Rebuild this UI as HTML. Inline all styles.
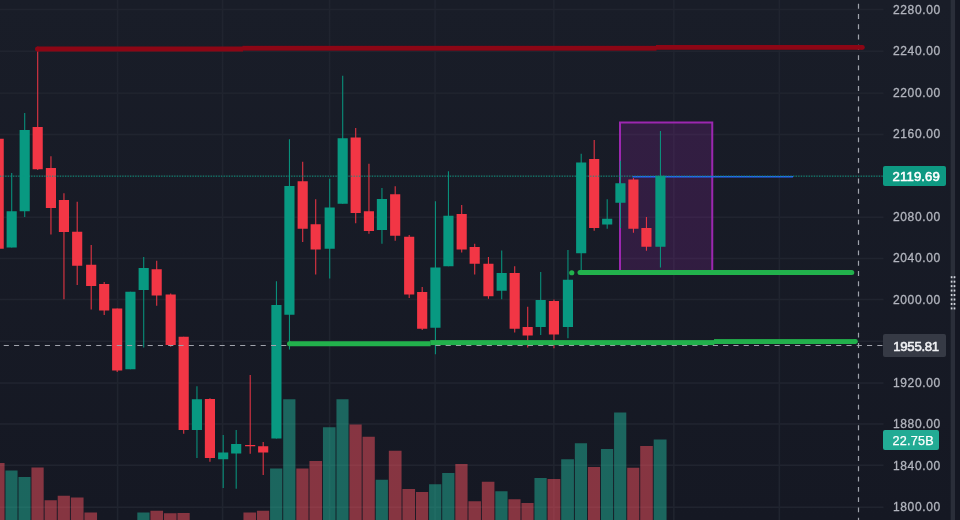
<!DOCTYPE html>
<html><head><meta charset="utf-8"><title>Chart</title>
<style>
html,body{margin:0;padding:0;}
body{width:960px;height:520px;overflow:hidden;position:relative;background:linear-gradient(#191d28,#151823);font-family:"Liberation Sans",sans-serif;}
.lbl{-webkit-text-stroke:0.3px #b2b5be;position:absolute;left:892.9px;width:50px;height:16px;line-height:16.6px;font-size:12px;letter-spacing:0.66px;color:#b2b5be;white-space:nowrap;}
.tag{position:absolute;left:883px;border-radius:2px;color:#fff;font-size:12.6px;letter-spacing:0.25px;white-space:nowrap;box-sizing:border-box;padding-left:9.5px;}
</style></head><body>
<svg width="960" height="520" viewBox="0 0 960 520" style="position:absolute;left:0;top:0">
<rect x="116.80" y="0" width="1.6" height="520" fill="#20242f"/>
<rect x="221.80" y="0" width="1.6" height="520" fill="#20242f"/>
<rect x="328.80" y="0" width="1.6" height="520" fill="#20242f"/>
<rect x="434.30" y="0" width="1.6" height="520" fill="#20242f"/>
<rect x="553.05" y="0" width="1.6" height="520" fill="#20242f"/>
<rect x="673.05" y="0" width="1.6" height="520" fill="#20242f"/>
<rect x="778.55" y="0" width="1.6" height="520" fill="#20242f"/>
<rect x="0" y="8.65" width="883.5" height="1.6" fill="#20242f"/>
<rect x="0" y="50.40" width="883.5" height="1.6" fill="#20242f"/>
<rect x="0" y="92.35" width="883.5" height="1.6" fill="#20242f"/>
<rect x="0" y="133.65" width="883.5" height="1.6" fill="#20242f"/>
<rect x="0" y="175.05" width="883.5" height="1.6" fill="#20242f"/>
<rect x="0" y="216.40" width="883.5" height="1.6" fill="#20242f"/>
<rect x="0" y="257.65" width="883.5" height="1.6" fill="#20242f"/>
<rect x="0" y="298.65" width="883.5" height="1.6" fill="#20242f"/>
<rect x="0" y="340.45" width="883.5" height="1.6" fill="#20242f"/>
<rect x="0" y="382.25" width="883.5" height="1.6" fill="#20242f"/>
<rect x="0" y="423.15" width="883.5" height="1.6" fill="#20242f"/>
<rect x="0" y="464.40" width="883.5" height="1.6" fill="#20242f"/>
<rect x="0" y="506.40" width="883.5" height="1.6" fill="#20242f"/>
<rect x="0.00" y="463.00" width="4.55" height="57.00" fill="rgba(247,82,95,0.5)"/>
<rect x="5.45" y="470.50" width="12.10" height="49.50" fill="rgba(34,171,148,0.53)"/>
<rect x="18.45" y="477.00" width="12.10" height="43.00" fill="rgba(34,171,148,0.53)"/>
<rect x="31.45" y="467.50" width="12.22" height="52.50" fill="rgba(247,82,95,0.5)"/>
<rect x="44.58" y="500.25" width="12.22" height="19.75" fill="rgba(247,82,95,0.5)"/>
<rect x="57.70" y="495.75" width="12.22" height="24.25" fill="rgba(247,82,95,0.5)"/>
<rect x="70.83" y="497.50" width="12.72" height="22.50" fill="rgba(247,82,95,0.5)"/>
<rect x="84.45" y="512.50" width="12.60" height="7.50" fill="rgba(247,82,95,0.5)"/>
<rect x="137.32" y="512.50" width="12.23" height="7.50" fill="rgba(34,171,148,0.53)"/>
<rect x="150.45" y="510.75" width="12.60" height="9.25" fill="rgba(247,82,95,0.5)"/>
<rect x="163.95" y="513.25" width="12.60" height="6.75" fill="rgba(247,82,95,0.5)"/>
<rect x="177.45" y="513.00" width="12.23" height="7.00" fill="rgba(247,82,95,0.5)"/>
<rect x="243.45" y="512.50" width="12.60" height="7.50" fill="rgba(247,82,95,0.5)"/>
<rect x="256.95" y="510.75" width="12.23" height="9.25" fill="rgba(247,82,95,0.5)"/>
<rect x="270.07" y="468.50" width="12.23" height="51.50" fill="rgba(34,171,148,0.53)"/>
<rect x="283.20" y="399.25" width="12.23" height="120.75" fill="rgba(34,171,148,0.53)"/>
<rect x="296.32" y="468.50" width="12.23" height="51.50" fill="rgba(247,82,95,0.5)"/>
<rect x="309.45" y="461.00" width="12.60" height="59.00" fill="rgba(247,82,95,0.5)"/>
<rect x="322.95" y="427.25" width="12.60" height="92.75" fill="rgba(34,171,148,0.53)"/>
<rect x="336.45" y="399.25" width="12.10" height="120.75" fill="rgba(34,171,148,0.53)"/>
<rect x="349.45" y="424.50" width="12.23" height="95.50" fill="rgba(247,82,95,0.5)"/>
<rect x="362.57" y="436.75" width="12.23" height="83.25" fill="rgba(247,82,95,0.5)"/>
<rect x="375.70" y="479.75" width="12.23" height="40.25" fill="rgba(34,171,148,0.53)"/>
<rect x="388.82" y="450.75" width="12.73" height="69.25" fill="rgba(247,82,95,0.5)"/>
<rect x="402.45" y="489.00" width="12.60" height="31.00" fill="rgba(247,82,95,0.5)"/>
<rect x="415.95" y="492.00" width="12.23" height="28.00" fill="rgba(247,82,95,0.5)"/>
<rect x="429.07" y="484.25" width="12.23" height="35.75" fill="rgba(34,171,148,0.53)"/>
<rect x="442.20" y="473.00" width="12.23" height="47.00" fill="rgba(34,171,148,0.53)"/>
<rect x="455.32" y="464.00" width="12.23" height="56.00" fill="rgba(247,82,95,0.5)"/>
<rect x="468.45" y="501.25" width="12.48" height="18.75" fill="rgba(247,82,95,0.5)"/>
<rect x="481.82" y="481.75" width="12.60" height="38.25" fill="rgba(247,82,95,0.5)"/>
<rect x="495.32" y="491.25" width="12.23" height="28.75" fill="rgba(34,171,148,0.53)"/>
<rect x="508.45" y="499.25" width="12.10" height="20.75" fill="rgba(247,82,95,0.5)"/>
<rect x="521.45" y="503.00" width="12.10" height="17.00" fill="rgba(247,82,95,0.5)"/>
<rect x="534.45" y="478.00" width="12.22" height="42.00" fill="rgba(34,171,148,0.53)"/>
<rect x="547.58" y="479.00" width="12.72" height="41.00" fill="rgba(247,82,95,0.5)"/>
<rect x="561.20" y="459.25" width="12.72" height="60.75" fill="rgba(34,171,148,0.53)"/>
<rect x="574.83" y="443.25" width="12.22" height="76.75" fill="rgba(34,171,148,0.53)"/>
<rect x="587.95" y="467.00" width="12.10" height="53.00" fill="rgba(247,82,95,0.5)"/>
<rect x="600.95" y="449.00" width="12.22" height="71.00" fill="rgba(34,171,148,0.53)"/>
<rect x="614.08" y="412.50" width="12.22" height="107.50" fill="rgba(34,171,148,0.53)"/>
<rect x="627.20" y="467.75" width="12.10" height="52.25" fill="rgba(247,82,95,0.5)"/>
<rect x="640.20" y="446.00" width="12.60" height="74.00" fill="rgba(247,82,95,0.5)"/>
<rect x="653.70" y="439.50" width="12.85" height="80.50" fill="rgba(34,171,148,0.53)"/>
<rect x="620" y="122.5" width="92.25" height="150" fill="rgba(156,39,176,0.2)" stroke="#9c27b0" stroke-width="2"/>
<line x1="632.5" y1="176.75" x2="793" y2="176.75" stroke="#2962ff" stroke-width="1.5"/>
<rect x="-1.85" y="138.75" width="1.1" height="110.00" fill="#f23645" opacity="0.92"/>
<rect x="-6.40" y="138.75" width="10.15" height="110.00" fill="#f23645"/>
<rect x="11.15" y="173.00" width="1.1" height="74.50" fill="#089981" opacity="0.92"/>
<rect x="6.60" y="211.25" width="10.15" height="36.25" fill="#089981"/>
<rect x="24.15" y="113.00" width="1.1" height="104.00" fill="#089981" opacity="0.92"/>
<rect x="19.60" y="130.00" width="10.15" height="81.25" fill="#089981"/>
<rect x="37.15" y="51.00" width="1.1" height="119.00" fill="#f23645" opacity="0.92"/>
<rect x="32.60" y="127.00" width="10.15" height="42.25" fill="#f23645"/>
<rect x="50.40" y="156.25" width="1.1" height="78.25" fill="#f23645" opacity="0.92"/>
<rect x="45.85" y="168.00" width="10.15" height="40.00" fill="#f23645"/>
<rect x="63.40" y="193.25" width="1.1" height="106.00" fill="#f23645" opacity="0.92"/>
<rect x="58.85" y="200.00" width="10.15" height="32.00" fill="#f23645"/>
<rect x="76.65" y="201.75" width="1.1" height="83.25" fill="#f23645" opacity="0.92"/>
<rect x="72.10" y="231.75" width="10.15" height="34.00" fill="#f23645"/>
<rect x="90.65" y="245.00" width="1.1" height="64.50" fill="#f23645" opacity="0.92"/>
<rect x="86.10" y="264.75" width="10.15" height="21.25" fill="#f23645"/>
<rect x="103.65" y="282.00" width="1.1" height="33.00" fill="#f23645" opacity="0.92"/>
<rect x="99.10" y="284.00" width="10.15" height="26.50" fill="#f23645"/>
<rect x="116.65" y="308.50" width="1.1" height="63.50" fill="#f23645" opacity="0.92"/>
<rect x="112.10" y="308.50" width="10.15" height="62.00" fill="#f23645"/>
<rect x="129.90" y="291.75" width="1.1" height="77.50" fill="#089981" opacity="0.92"/>
<rect x="125.35" y="291.75" width="10.15" height="77.50" fill="#089981"/>
<rect x="143.15" y="257.00" width="1.1" height="90.50" fill="#089981" opacity="0.92"/>
<rect x="138.60" y="268.00" width="10.15" height="22.00" fill="#089981"/>
<rect x="156.15" y="260.75" width="1.1" height="45.00" fill="#f23645" opacity="0.92"/>
<rect x="151.60" y="269.25" width="10.15" height="26.25" fill="#f23645"/>
<rect x="170.15" y="293.50" width="1.1" height="53.25" fill="#f23645" opacity="0.92"/>
<rect x="165.60" y="294.50" width="10.15" height="50.50" fill="#f23645"/>
<rect x="183.15" y="336.75" width="1.1" height="97.00" fill="#f23645" opacity="0.92"/>
<rect x="178.60" y="336.75" width="10.15" height="93.25" fill="#f23645"/>
<rect x="196.40" y="386.25" width="1.1" height="71.75" fill="#089981" opacity="0.92"/>
<rect x="191.85" y="399.25" width="10.15" height="30.75" fill="#089981"/>
<rect x="209.40" y="398.25" width="1.1" height="63.50" fill="#f23645" opacity="0.92"/>
<rect x="204.85" y="399.00" width="10.15" height="59.00" fill="#f23645"/>
<rect x="222.65" y="435.00" width="1.1" height="53.00" fill="#089981" opacity="0.92"/>
<rect x="218.10" y="452.50" width="10.15" height="6.75" fill="#089981"/>
<rect x="235.65" y="430.00" width="1.1" height="58.75" fill="#089981" opacity="0.92"/>
<rect x="231.10" y="444.00" width="10.15" height="9.50" fill="#089981"/>
<rect x="249.65" y="375.00" width="1.1" height="78.75" fill="#f23645" opacity="0.92"/>
<rect x="245.10" y="445.00" width="10.15" height="1.25" fill="#f23645"/>
<rect x="262.65" y="442.00" width="1.1" height="33.00" fill="#f23645" opacity="0.92"/>
<rect x="258.10" y="446.25" width="10.15" height="6.25" fill="#f23645"/>
<rect x="275.90" y="281.25" width="1.1" height="157.25" fill="#089981" opacity="0.92"/>
<rect x="271.35" y="305.00" width="10.15" height="133.50" fill="#089981"/>
<rect x="288.90" y="139.25" width="1.1" height="210.25" fill="#089981" opacity="0.92"/>
<rect x="284.35" y="186.00" width="10.15" height="128.75" fill="#089981"/>
<rect x="302.15" y="161.75" width="1.1" height="80.25" fill="#f23645" opacity="0.92"/>
<rect x="297.60" y="181.25" width="10.15" height="47.50" fill="#f23645"/>
<rect x="315.15" y="199.25" width="1.1" height="75.25" fill="#f23645" opacity="0.92"/>
<rect x="310.60" y="224.25" width="10.15" height="25.25" fill="#f23645"/>
<rect x="329.15" y="178.75" width="1.1" height="99.75" fill="#089981" opacity="0.92"/>
<rect x="324.60" y="207.50" width="10.15" height="41.25" fill="#089981"/>
<rect x="342.15" y="75.75" width="1.1" height="128.00" fill="#089981" opacity="0.92"/>
<rect x="337.60" y="138.25" width="10.15" height="65.50" fill="#089981"/>
<rect x="355.15" y="128.00" width="1.1" height="95.25" fill="#f23645" opacity="0.92"/>
<rect x="350.60" y="137.50" width="10.15" height="75.50" fill="#f23645"/>
<rect x="368.40" y="163.75" width="1.1" height="70.00" fill="#f23645" opacity="0.92"/>
<rect x="363.85" y="211.25" width="10.15" height="19.75" fill="#f23645"/>
<rect x="381.40" y="188.00" width="1.1" height="55.75" fill="#089981" opacity="0.92"/>
<rect x="376.85" y="199.00" width="10.15" height="31.00" fill="#089981"/>
<rect x="394.65" y="186.25" width="1.1" height="54.50" fill="#f23645" opacity="0.92"/>
<rect x="390.10" y="194.25" width="10.15" height="41.50" fill="#f23645"/>
<rect x="408.65" y="235.00" width="1.1" height="63.00" fill="#f23645" opacity="0.92"/>
<rect x="404.10" y="236.75" width="10.15" height="57.75" fill="#f23645"/>
<rect x="421.65" y="287.00" width="1.1" height="43.00" fill="#f23645" opacity="0.92"/>
<rect x="417.10" y="292.00" width="10.15" height="36.75" fill="#f23645"/>
<rect x="434.90" y="201.25" width="1.1" height="153.00" fill="#089981" opacity="0.92"/>
<rect x="430.35" y="267.50" width="10.15" height="60.25" fill="#089981"/>
<rect x="447.90" y="171.25" width="1.1" height="95.00" fill="#089981" opacity="0.92"/>
<rect x="443.35" y="215.75" width="10.15" height="50.50" fill="#089981"/>
<rect x="461.15" y="205.00" width="1.1" height="47.50" fill="#f23645" opacity="0.92"/>
<rect x="456.60" y="214.00" width="10.15" height="35.50" fill="#f23645"/>
<rect x="474.15" y="243.75" width="1.1" height="30.75" fill="#f23645" opacity="0.92"/>
<rect x="469.60" y="247.00" width="10.15" height="16.75" fill="#f23645"/>
<rect x="487.90" y="257.00" width="1.1" height="41.75" fill="#f23645" opacity="0.92"/>
<rect x="483.35" y="263.75" width="10.15" height="32.50" fill="#f23645"/>
<rect x="501.15" y="250.50" width="1.1" height="48.75" fill="#089981" opacity="0.92"/>
<rect x="496.60" y="273.00" width="10.15" height="17.75" fill="#089981"/>
<rect x="514.15" y="266.25" width="1.1" height="66.25" fill="#f23645" opacity="0.92"/>
<rect x="509.60" y="273.00" width="10.15" height="55.75" fill="#f23645"/>
<rect x="527.15" y="306.75" width="1.1" height="40.75" fill="#f23645" opacity="0.92"/>
<rect x="522.60" y="327.00" width="10.15" height="8.50" fill="#f23645"/>
<rect x="540.15" y="272.00" width="1.1" height="63.00" fill="#089981" opacity="0.92"/>
<rect x="535.60" y="300.00" width="10.15" height="27.00" fill="#089981"/>
<rect x="553.40" y="299.50" width="1.1" height="48.75" fill="#f23645" opacity="0.92"/>
<rect x="548.85" y="301.00" width="10.15" height="33.50" fill="#f23645"/>
<rect x="567.40" y="250.00" width="1.1" height="88.25" fill="#089981" opacity="0.92"/>
<rect x="562.85" y="279.75" width="10.15" height="47.25" fill="#089981"/>
<rect x="580.65" y="153.75" width="1.1" height="116.25" fill="#089981" opacity="0.92"/>
<rect x="576.10" y="162.50" width="10.15" height="90.75" fill="#089981"/>
<rect x="593.65" y="140.00" width="1.1" height="90.75" fill="#f23645" opacity="0.92"/>
<rect x="589.10" y="159.00" width="10.15" height="69.00" fill="#f23645"/>
<rect x="606.65" y="199.25" width="1.1" height="29.50" fill="#089981" opacity="0.92"/>
<rect x="602.10" y="218.75" width="10.15" height="5.75" fill="#089981"/>
<rect x="619.90" y="160.75" width="1.1" height="67.25" fill="#089981" opacity="0.92"/>
<rect x="615.35" y="183.25" width="10.15" height="19.50" fill="#089981"/>
<rect x="632.90" y="178.00" width="1.1" height="54.75" fill="#f23645" opacity="0.92"/>
<rect x="628.35" y="179.50" width="10.15" height="49.25" fill="#f23645"/>
<rect x="645.90" y="217.00" width="1.1" height="33.75" fill="#f23645" opacity="0.92"/>
<rect x="641.35" y="228.00" width="10.15" height="18.75" fill="#f23645"/>
<rect x="659.90" y="131.00" width="1.1" height="136.50" fill="#089981" opacity="0.92"/>
<rect x="655.35" y="175.75" width="10.15" height="71.00" fill="#089981"/>
<line x1="0" y1="176.25" x2="883" y2="176.25" stroke="#089981" stroke-width="1.3" stroke-dasharray="1.3 1.3" opacity="0.66"/>
<line x1="3.75" y1="345.5" x2="883" y2="345.5" stroke="#a0a3ac" stroke-width="1.2" stroke-dasharray="5.1 5.177"/>
<line x1="858.5" y1="3.75" x2="858.5" y2="520" stroke="#a0a3ac" stroke-width="1.2" stroke-dasharray="4.9 5.38"/>
<g fill="#8c0615"><rect x="37" y="46.5" width="206" height="5"/><circle cx="37.5" cy="49" r="2.5"/><rect x="242.5" y="45.85" width="414" height="4.8"/><rect x="656" y="45" width="206.5" height="4.75"/><circle cx="862.4" cy="47.4" r="2.4"/></g>
<g fill="#22b14c"><rect x="289" y="341.25" width="141.5" height="5"/><circle cx="289.5" cy="343.75" r="2.5"/><rect x="430.3" y="340.1" width="284" height="5"/><rect x="714" y="339.1" width="141.5" height="4.9"/><circle cx="855.4" cy="341.55" r="2.45"/></g>
<line x1="580" y1="272.5" x2="851.75" y2="272.5" stroke="#22b14c" stroke-width="5" stroke-linecap="round"/>
<circle cx="571.75" cy="272.75" r="2.6" fill="#22b14c"/>
<rect x="950.7" y="0" width="4.5" height="520" fill="#2a2e39"/>
<rect x="955.2" y="0" width="4.8" height="520" fill="#141722"/>
<rect x="950.75" y="276.20" width="1.7" height="2" fill="#d1d4dc"/>
<rect x="953.65" y="276.20" width="1.7" height="2" fill="#d1d4dc"/>
<rect x="950.75" y="280.66" width="1.7" height="2" fill="#d1d4dc"/>
<rect x="953.65" y="280.66" width="1.7" height="2" fill="#d1d4dc"/>
<rect x="950.75" y="285.12" width="1.7" height="2" fill="#d1d4dc"/>
<rect x="953.65" y="285.12" width="1.7" height="2" fill="#d1d4dc"/>
<rect x="950.75" y="289.58" width="1.7" height="2" fill="#d1d4dc"/>
<rect x="953.65" y="289.58" width="1.7" height="2" fill="#d1d4dc"/>
<rect x="950.75" y="294.04" width="1.7" height="2" fill="#d1d4dc"/>
<rect x="953.65" y="294.04" width="1.7" height="2" fill="#d1d4dc"/>
<rect x="950.75" y="298.50" width="1.7" height="2" fill="#d1d4dc"/>
<rect x="953.65" y="298.50" width="1.7" height="2" fill="#d1d4dc"/>
<rect x="950.75" y="302.96" width="1.7" height="2" fill="#d1d4dc"/>
<rect x="953.65" y="302.96" width="1.7" height="2" fill="#d1d4dc"/>
<rect x="950.75" y="307.42" width="1.7" height="2" fill="#d1d4dc"/>
<rect x="953.65" y="307.42" width="1.7" height="2" fill="#d1d4dc"/>
</svg>
<div class="lbl" style="top:1.50px">2280.00</div>
<div class="lbl" style="top:43.25px">2240.00</div>
<div class="lbl" style="top:85.10px">2200.00</div>
<div class="lbl" style="top:126.10px">2160.00</div>
<div class="lbl" style="top:209.10px">2080.00</div>
<div class="lbl" style="top:250.40px">2040.00</div>
<div class="lbl" style="top:291.50px">2000.00</div>
<div class="lbl" style="top:374.60px">1920.00</div>
<div class="lbl" style="top:415.90px">1880.00</div>
<div class="lbl" style="top:457.50px">1840.00</div>
<div class="lbl" style="top:499.10px">1800.00</div>
<div class="tag" style="top:166.25px;width:63.25px;height:20px;line-height:22.7px;background:#0e9982;-webkit-text-stroke:0.55px #fff;font-size:13.2px;letter-spacing:0.12px">2119.69</div>
<div class="tag" style="top:334.25px;width:63.25px;height:22.75px;line-height:25.6px;background:#363a45;-webkit-text-stroke:0.55px #f0f1f4;font-size:13.2px;letter-spacing:-0.3px;padding-left:10.3px;color:#f0f1f4">1955.81</div>
<div class="tag" style="top:430px;width:56px;height:20px;line-height:23.2px;background:#22ab94;-webkit-text-stroke:0.25px #fff">22.75B</div>
</body></html>
